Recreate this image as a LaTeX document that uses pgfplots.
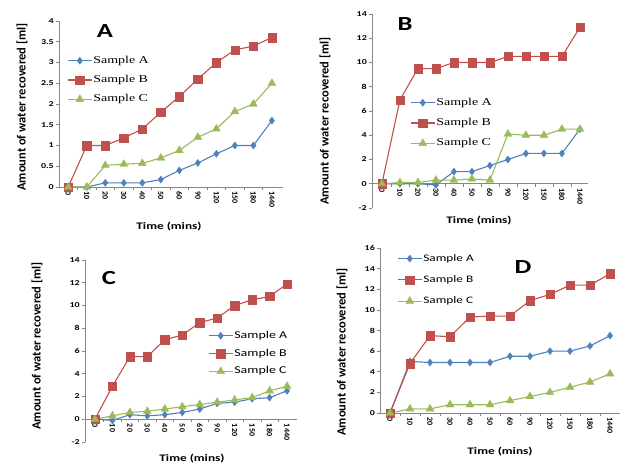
\documentclass[border=0pt]{standalone}
\usepackage{pgfplots}
\pgfplotsset{compat=1.18}
\usepackage{fontspec}
\setmainfont{Carlito}
\newfontfamily\wide[FakeStretch=1.33]{Carlito}
\newfontfamily\seriffont[FakeStretch=1.33]{Liberation Serif}
\definecolor{exblue}{HTML}{4F81BD}
\definecolor{exred}{HTML}{C0504D}
\definecolor{exgreen}{HTML}{9BBB59}
\definecolor{axgray}{HTML}{868686}
\pgfplotsset{
  myax/.style={
    scale only axis,
    axis x line*=bottom, axis y line*=left,
    axis line style={axgray, line width=0.8pt},
    tick style={axgray, line width=0.6pt},
    major tick length=3pt, minor tick length=3pt,
    tick align=outside,
    xtick={0,...,11},
    minor xtick={0.5,1.5,...,10.5},
    major x tick style={draw=none},
    xticklabels={0,10,20,30,40,50,60,90,120,150,180,1440},
    x tick label style={rotate=-90, anchor=west, font=\fontsize{8}{8}\selectfont\bfseries, inner sep=1.5pt},
    y tick label style={font=\wide\fontsize{7.5}{7.5}\selectfont\bfseries, inner sep=2pt},
    /pgf/number format/assume math mode=true,
    clip=false,
    legend cell align=left,
    legend image code/.code={\draw[mark repeat=2,mark phase=2] plot coordinates {(0pt,0pt) (12pt,0pt) (24pt,0pt)};},
  },
  sa/.style={exblue, line width=1.1pt, mark=diamond*, mark size=3.6pt, mark options={fill=exblue, draw=exblue, line width=0.3pt}},
  sb/.style={exred, line width=1.1pt, mark=square*, mark size=4.2pt, mark options={fill=exred, draw=exred, line width=0.3pt}},
  sc/.style={exgreen, line width=1.1pt, mark=triangle*, mark size=4.6pt, mark options={fill=exgreen, draw=exgreen, line width=0.3pt}},
}
\newcommand{\ylab}{\fontsize{12.5}{13}\selectfont\bfseries Amount of water recovered [ml]}
\newcommand{\xlab}{\wide\fontsize{10}{10}\selectfont\bfseries Time (mins)}
\newcommand{\plab}{\wide\fontsize{20}{20}\selectfont\bfseries}
\begin{document}
\begin{tikzpicture}
\path[use as bounding box] (0pt,0pt) rectangle (623pt,464pt);
% Panel A
\begin{axis}[myax, at={(59pt,277pt)}, anchor=south west, width=224pt, height=166pt,
  xmin=-0.5, xmax=11.6, ymin=0, ymax=4, ytick={0,0.5,...,4},
  yticklabel style={/pgf/number format/fixed},
  legend style={at={(axis description cs:0.036,0.795)}, anchor=north west, draw=none, fill=none,
    font=\seriffont\fontsize{10.5}{10.5}\selectfont, row sep=8.3pt, inner sep=0pt,
    nodes={text height=7pt, text depth=2pt, inner sep=1pt}}]
\addplot[sa] coordinates {(0,0)(1,0)(2,0.1)(3,0.1)(4,0.1)(5,0.18)(6,0.4)(7,0.58)(8,0.8)(9,1.0)(10,1.0)(11,1.6)};
\addplot[sb] coordinates {(0,0)(1,1.0)(2,1.0)(3,1.18)(4,1.4)(5,1.8)(6,2.18)(7,2.6)(8,3.0)(9,3.3)(10,3.4)(11,3.6)};
\addplot[sc] coordinates {(0,0)(1,0)(2,0.52)(3,0.55)(4,0.57)(5,0.7)(6,0.88)(7,1.2)(8,1.4)(9,1.82)(10,2.0)(11,2.5)};
\legend{Sample A, Sample B, Sample C}
\end{axis}
% Panel B
\begin{axis}[myax, at={(372pt,256pt)}, anchor=south west, width=216pt, height=194pt,
  axis x line*=middle,
  xmin=-0.55, xmax=11.45, ymin=-2, ymax=14, ytick={-2,0,...,14},
  legend style={at={(axis description cs:0.176,0.572)}, anchor=north west, draw=none, fill=none,
    font=\seriffont\fontsize{10.5}{10.5}\selectfont, row sep=9.3pt, inner sep=0pt,
    nodes={text height=7pt, text depth=2pt, inner sep=1pt}}]
\addplot[sa] coordinates {(0,0)(1,0)(2,0)(3,-0.1)(4,1.0)(5,1.0)(6,1.5)(7,2.0)(8,2.5)(9,2.5)(10,2.5)(11,4.5)};
\addplot[sb] coordinates {(0,0)(1,6.9)(2,9.5)(3,9.5)(4,10)(5,10)(6,10)(7,10.5)(8,10.5)(9,10.5)(10,10.5)(11,12.9)};
\addplot[sc] coordinates {(0,0)(1,0.1)(2,0.1)(3,0.3)(4,0.3)(5,0.4)(6,0.3)(7,4.1)(8,4.0)(9,4.0)(10,4.5)(11,4.5)};
\legend{Sample A, Sample B, Sample C}
\end{axis}
% Panel C
\begin{axis}[myax, at={(85pt,22pt)}, anchor=south west, width=212pt, height=182pt,
  axis x line*=middle,
  xmin=-0.57, xmax=11.57, ymin=-2, ymax=14, ytick={-2,0,...,14},
  legend style={at={(axis description cs:0.58,0.615)}, anchor=north west, draw=none, fill=none,
    font=\wide\fontsize{10.5}{10.5}\selectfont, row sep=6.8pt, inner sep=0pt,
    nodes={text height=7pt, text depth=2pt, inner sep=1pt}}]
\addplot[sa] coordinates {(0,0)(1,-0.1)(2,0.4)(3,0.3)(4,0.4)(5,0.6)(6,0.9)(7,1.4)(8,1.5)(9,1.8)(10,1.9)(11,2.5)};
\addplot[sb] coordinates {(0,0)(1,2.9)(2,5.5)(3,5.5)(4,7.0)(5,7.4)(6,8.5)(7,8.9)(8,10.0)(9,10.5)(10,10.8)(11,11.9)};
\addplot[sc] coordinates {(0,0)(1,0.3)(2,0.6)(3,0.7)(4,0.9)(5,1.1)(6,1.3)(7,1.5)(8,1.7)(9,1.9)(10,2.5)(11,2.9)};
\legend{Sample A, Sample B, Sample C}
\end{axis}
% Panel D
\begin{axis}[myax, at={(380pt,51pt)}, anchor=south west, width=240pt, height=165pt,
  xmin=-0.5, xmax=11.5, ymin=0, ymax=16, ytick={0,2,...,16},
  legend style={at={(axis description cs:0.071,0.97)}, anchor=north west, draw=none, fill=none,
    font=\wide\fontsize{10}{10}\selectfont, row sep=10.2pt, inner sep=0pt,
    nodes={text height=7pt, text depth=2pt, inner sep=1pt}}]
\addplot[sa] coordinates {(0,0)(1,5.0)(2,4.9)(3,4.9)(4,4.9)(5,4.9)(6,5.5)(7,5.5)(8,6.0)(9,6.0)(10,6.5)(11,7.5)};
\addplot[sb] coordinates {(0,0)(1,4.8)(2,7.5)(3,7.4)(4,9.3)(5,9.4)(6,9.4)(7,10.9)(8,11.5)(9,12.4)(10,12.4)(11,13.5)};
\addplot[sc] coordinates {(0,0)(1,0.4)(2,0.4)(3,0.8)(4,0.8)(5,0.8)(6,1.2)(7,1.6)(8,2.0)(9,2.5)(10,3.0)(11,3.8)};
\legend{Sample A, Sample B, Sample C}
\end{axis}
% labels (page coordinates, origin bottom-left)
\node[rotate=90] at (22pt,357pt) {\ylab};
\node[rotate=90] at (325pt,343pt) {\ylab};
\node[rotate=90] at (37pt,118pt) {\ylab};
\node[rotate=90] at (342pt,112pt) {\ylab};
\node at (169pt,237pt) {\xlab};
\node at (479pt,243pt) {\xlab};
\node at (192pt,5pt) {\xlab};
\node at (500pt,12pt) {\xlab};
\node at (105pt,433pt) {\plab A};
\node at (405pt,440pt) {\plab B};
\node at (109pt,186pt) {\plab C};
\node at (523pt,197pt) {\plab D};
\end{tikzpicture}
\end{document}
